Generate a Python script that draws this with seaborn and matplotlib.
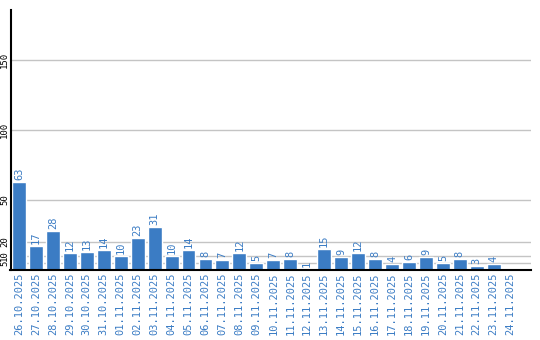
import matplotlib
matplotlib.use("Agg")
import matplotlib.pyplot as plt
import seaborn as sns
import pandas as pd

dates = ["26.10.2025", "27.10.2025", "28.10.2025", "29.10.2025", "30.10.2025",
         "31.10.2025", "01.11.2025", "02.11.2025", "03.11.2025", "04.11.2025",
         "05.11.2025", "06.11.2025", "07.11.2025", "08.11.2025", "09.11.2025",
         "10.11.2025", "11.11.2025", "12.11.2025", "13.11.2025", "14.11.2025",
         "15.11.2025", "16.11.2025", "17.11.2025", "18.11.2025", "19.11.2025",
         "20.11.2025", "21.11.2025", "22.11.2025", "23.11.2025", "24.11.2025"]
values = [63, 17, 28, 12, 13, 14, 10, 23, 31, 10,
          14, 8, 7, 12, 5, 7, 8, 1, 15, 9,
          12, 8, 4, 6, 9, 5, 8, 3, 4, 0]
y_ticks = [5, 10, 20, 50, 100, 150]

sns.set_style("white")
plt.rcParams['font.family'] = ['DejaVu Sans Mono', 'DejaVu Sans']

df = pd.DataFrame({"date": dates, "value": values})

fig = plt.figure(figsize=(5.4, 3.4), dpi=100)
ax = fig.add_axes([10.5/540, 70/340, 520.5/540, 260/340])

for t in y_ticks:
    ax.axhline(t, color="#c4c4c4", lw=1, zorder=0)

sns.barplot(data=df, x="date", y="value", color="#3b7cc4", saturation=1,
            width=0.82, ax=ax, zorder=2)

blue = "#3b7cc4"
for i, v in enumerate(values):
    if v > 0:
        ax.text(i, v + 1.5, str(v), rotation=90, ha="center", va="bottom",
                color=blue, fontsize=7.5)

ax.set_ylim(0, 186)
ax.set_xlim(-0.5, 30.2)
ax.set_yticks(y_ticks)
ax.set_yticklabels([str(t) for t in y_ticks], rotation=90, va="center",
                   fontsize=6.5, color="black")
ax.set_xticks(range(len(dates)))
ax.set_xticklabels(dates, rotation=90, fontsize=7.5, color=blue)
ax.tick_params(axis="x", length=0, pad=2)
ax.tick_params(axis="y", length=0, pad=1)
ax.set_xlabel("")
ax.set_ylabel("")
for s in ["top", "right"]:
    ax.spines[s].set_visible(False)
ax.spines["left"].set_color("black")
ax.spines["left"].set_linewidth(1.5)
ax.spines["bottom"].set_color("black")
ax.spines["bottom"].set_linewidth(1.5)

fig.savefig("out.png", dpi=100)
